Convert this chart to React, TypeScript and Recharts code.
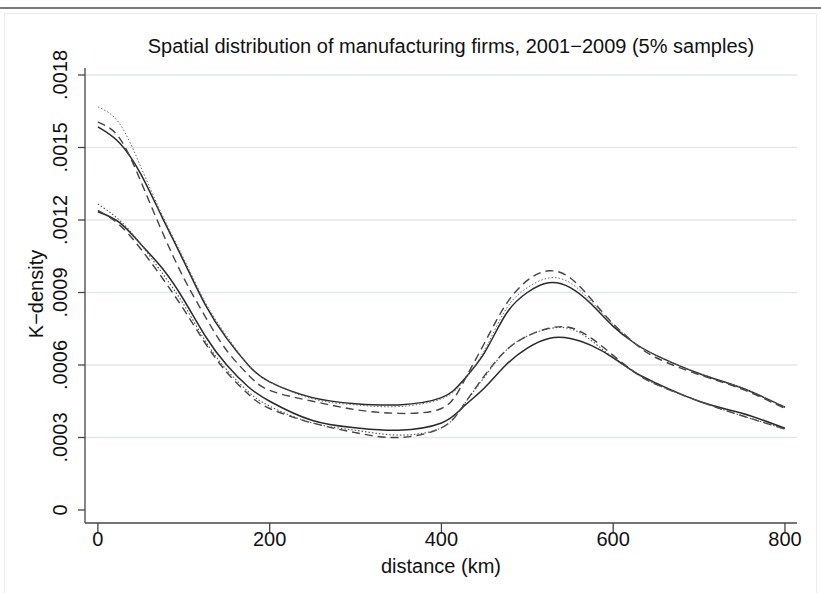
import { LineChart, Line, XAxis, YAxis, ReferenceLine } from "recharts";

// distance (km)
const distance = [0, 25, 50, 75, 100, 125, 150, 175, 200, 250, 300, 350, 400, 425, 450, 475, 500, 525, 550, 575, 600, 625, 650, 700, 750, 800];

// upper group
const upperSolid = [0.001585, 0.00152, 0.00139, 0.00121, 0.00103, 0.00085, 0.00071, 0.0006, 0.00053, 0.000465, 0.00044, 0.000435, 0.000465, 0.000535, 0.00065, 0.00081, 0.0009, 0.00094, 0.00092, 0.00085, 0.00076, 0.00069, 0.00064, 0.000565, 0.000505, 0.000425];
const upperDash = [0.001605, 0.00154, 0.00136, 0.00115, 0.00096, 0.0008, 0.00066, 0.00056, 0.000495, 0.00045, 0.000415, 0.0004, 0.00042, 0.000525, 0.00069, 0.00085, 0.00095, 0.00099, 0.00096, 0.00087, 0.00077, 0.00069, 0.00063, 0.00056, 0.0005, 0.00042];
const upperDot = [0.001668, 0.0016, 0.00142, 0.00122, 0.00104, 0.00086, 0.00072, 0.0006, 0.00053, 0.00046, 0.000435, 0.000428, 0.00046, 0.00053, 0.00066, 0.00083, 0.00092, 0.00096, 0.00094, 0.00086, 0.00077, 0.00069, 0.00064, 0.000565, 0.000505, 0.000425];

// lower group
const lowerSolid = [0.001234, 0.00119, 0.0011, 0.001, 0.00087, 0.00072, 0.0006, 0.00051, 0.00045, 0.00037, 0.00034, 0.00033, 0.00036, 0.000425, 0.000505, 0.0006, 0.00067, 0.00071, 0.00071, 0.00068, 0.00063, 0.00057, 0.000525, 0.00045, 0.0004, 0.000338];
const lowerDash = [0.00124, 0.00118, 0.00108, 0.00096, 0.00083, 0.00069, 0.00057, 0.00048, 0.00042, 0.00036, 0.00032, 0.0003, 0.00034, 0.00043, 0.000555, 0.00066, 0.00072, 0.000752, 0.000755, 0.00071, 0.00064, 0.00057, 0.00052, 0.00045, 0.00039, 0.000335];
const lowerDot = [0.001266, 0.0012, 0.0011, 0.00098, 0.00085, 0.0007, 0.00058, 0.00049, 0.00043, 0.00036, 0.00033, 0.00031, 0.00034, 0.00043, 0.00055, 0.00066, 0.00072, 0.00075, 0.00075, 0.0007, 0.00063, 0.00057, 0.00052, 0.00045, 0.00039, 0.000335];

const yTicks = [0, 0.0003, 0.0006, 0.0009, 0.0012, 0.0015, 0.0018];
const yTickLabels = ["0", ".0003", ".0006", ".0009", ".0012", ".0015", ".0018"];
const xTicks = [0, 200, 400, 600, 800];

const data = distance.map((d, i) => ({
  d,
  us: upperSolid[i],
  ud: upperDash[i],
  ut: upperDot[i],
  ls: lowerSolid[i],
  ld: lowerDash[i],
  lt: lowerDot[i],
}));

const FONT = "'Liberation Sans', Arial, sans-serif";
const INK = "#2a2a2a";
const GRID = "#dce9ec";

function YTick({ x, y, payload }: any) {
  const i = yTicks.indexOf(payload.value);
  const cx = x - 16;
  return (
    <text
      x={cx}
      y={y}
      transform={`rotate(-90 ${cx} ${y})`}
      textAnchor="middle"
      dominantBaseline="central"
      fontSize={20}
      fontFamily={FONT}
      fill="#111"
    >
      {i >= 0 ? yTickLabels[i] : payload.value}
    </text>
  );
}

function XTick({ x, y, payload }: any) {
  return (
    <text x={x} y={y + 12} textAnchor="middle" fontSize={20} fontFamily={FONT} fill="#111">
      {payload.value}
    </text>
  );
}

export default function App() {
  return (
    <div style={{ position: "absolute", left: 0, top: 0, width: 821, height: 593, background: "#fff", overflow: "hidden" }}>
      <div style={{ position: "absolute", left: 0, top: 7, width: 821, height: 2, background: "#7a7a7a" }} />
      <div style={{ position: "absolute", left: 4, top: 13, width: 811, height: 600, border: "1px solid #e4edef" }} />
      <div style={{ position: "absolute", left: 0, top: 0 }}>
        <LineChart width={821} height={593} data={data} margin={{ top: 68, right: 24, bottom: 0, left: 0 }}>
          {yTicks.slice(1).map((t) => (
            <ReferenceLine key={t} y={t} stroke={GRID} strokeWidth={1.5} ifOverflow="extendDomain" />
          ))}
          <XAxis
            dataKey="d"
            type="number"
            domain={[-15, 814]}
            ticks={xTicks}
            height={70}
            stroke="#444"
            strokeWidth={1.3}
            tickSize={9}
            tick={<XTick />}
            allowDataOverflow
          />
          <YAxis
            type="number"
            domain={[-0.0000538, 0.001829]}
            ticks={yTicks}
            width={85}
            stroke="#444"
            strokeWidth={1.3}
            tickSize={7}
            tick={<YTick />}
            allowDataOverflow
          />
          <Line type="natural" dataKey="us" stroke={INK} strokeWidth={1.5} dot={false} isAnimationActive={false} />
          <Line type="natural" dataKey="ud" stroke="#444" strokeWidth={1.4} strokeDasharray="8 5" dot={false} isAnimationActive={false} />
          <Line type="natural" dataKey="ut" stroke="#666" strokeWidth={1} strokeDasharray="1.5 2" dot={false} isAnimationActive={false} />
          <Line type="natural" dataKey="ls" stroke={INK} strokeWidth={1.5} dot={false} isAnimationActive={false} />
          <Line type="natural" dataKey="ld" stroke="#444" strokeWidth={1.4} strokeDasharray="8 5" dot={false} isAnimationActive={false} />
          <Line type="natural" dataKey="lt" stroke="#555" strokeWidth={1.1} strokeDasharray="1.5 2" dot={false} isAnimationActive={false} />
        </LineChart>
      </div>
      <svg width={821} height={593} style={{ position: "absolute", left: 0, top: 0, pointerEvents: "none" }}>
        <text x={451} y={53} textAnchor="middle" fontSize={20} fontFamily={FONT} fill="#111">
          Spatial distribution of manufacturing firms, 2001−2009 (5% samples)
        </text>
        <text x={441} y={573} textAnchor="middle" fontSize={20} fontFamily={FONT} fill="#111">
          distance (km)
        </text>
        <text
          x={36}
          y={294}
          transform="rotate(-90 36 294)"
          textAnchor="middle"
          dominantBaseline="central"
          fontSize={20}
          fontFamily={FONT}
          fill="#111"
        >
          K−density
        </text>
      </svg>
    </div>
  );
}
